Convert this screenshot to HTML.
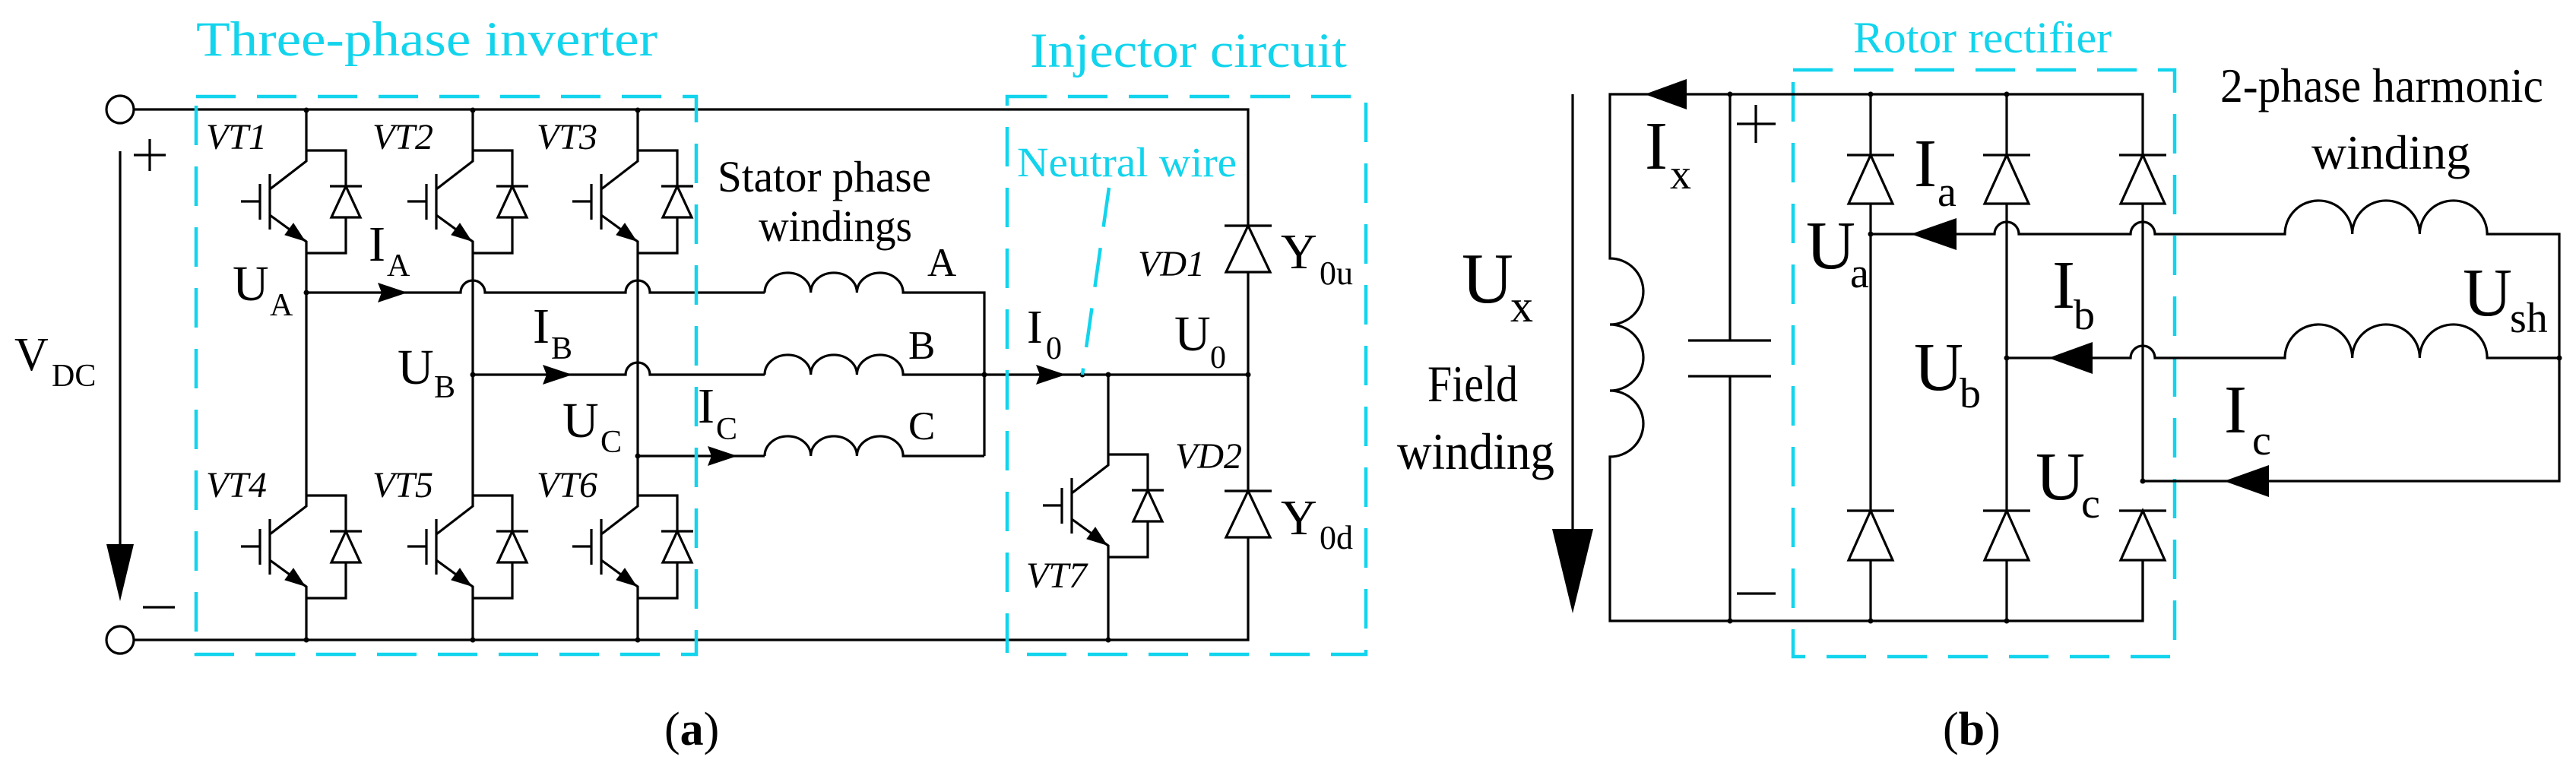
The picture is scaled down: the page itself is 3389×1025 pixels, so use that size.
<!DOCTYPE html>
<html><head><meta charset="utf-8"><style>
html,body{margin:0;padding:0;background:#fff}
svg{display:block}
svg text, svg tspan{font-family:"Liberation Serif",serif}
text{fill:#000}
.c{fill:#12d4ec}
</style></head><body>
<svg width="3389" height="1025" viewBox="0 0 3389 1025" xmlns="http://www.w3.org/2000/svg" font-family="Liberation Serif, serif">
<defs>
<g id="igbt" fill="none" stroke="#000" stroke-width="3.2">
<path d="M0 0 H52 V47 M52 88 V135 H0 M0 0 V14 L-48 51 M-48 31 V104 M-61 44 V91 M-86 67 H-61 M-48 85 L0 120 V135"/>
<path d="M52 47 L33 88 H71 Z M31 47 H73" fill="#fff"/>
<path d="M-2 119 L-28 111 L-17 96 Z" fill="#000" stroke-width="1"/>
</g>
</defs>

<g fill="none" stroke="#000" stroke-width="3.2">
<circle cx="158" cy="144" r="18"/>
<circle cx="158" cy="842" r="18"/>
<path d="M176 144 H1642 V297 M1642 358 V646 M1642 707 V842 H176"/>
<path d="M158 199 V720"/>
<path d="M403 145 V198 M403 333 V652 M403 787 V842"/>
<path d="M622 145 V198 M622 333 V652 M622 787 V842"/>
<path d="M839 145 V198 M839 333 V652 M839 787 V842"/>
<path d="M403 385 H606 a16 16 0 0 1 32 0 H823 a16 16 0 0 1 32 0 H1006"/>
<path d="M622 493 H823 a16 16 0 0 1 32 0 H1006"/>
<path d="M839 600 H1006"/>
<path d="M1006 385 a30.3 26 0 0 1 60.7 0 a30.3 26 0 0 1 60.7 0 a30.3 26 0 0 1 60.7 0 H1295 V600"/>
<path d="M1006 493 a30.3 26 0 0 1 60.7 0 a30.3 26 0 0 1 60.7 0 a30.3 26 0 0 1 60.7 0 H1642"/>
<path d="M1006 600 a30.3 26 0 0 1 60.7 0 a30.3 26 0 0 1 60.7 0 a30.3 26 0 0 1 60.7 0 H1295"/>
<path d="M1458 493 V598 M1458 733 V842"/>
<path d="M1642 297 L1613 358 H1671 Z M1611 297 H1673" fill="#fff"/>
<path d="M1642 646 L1613 707 H1671 Z M1611 646 H1673" fill="#fff"/>
<path d="M176 204 H218 M197 183 V225 M188 799 H230"/>
</g>
<path d="M140 716 H176 L158 791 Z" fill="#000"/>
<g fill="#000">
<path d="M497 372 L536 385 L497 398 L502 385 Z"/>
<path d="M714 480 L753 493 L714 506 L719 493 Z"/>
<path d="M931 587 L970 600 L931 613 L936 600 Z"/>
<path d="M1363 480 L1402 493 L1363 506 L1368 493 Z"/>
<circle cx="403" cy="145" r="3.5"/><circle cx="622" cy="145" r="3.5"/><circle cx="839" cy="145" r="3.5"/>
<circle cx="403" cy="842" r="3.5"/><circle cx="622" cy="842" r="3.5"/><circle cx="839" cy="842" r="3.5"/>
<circle cx="403" cy="385" r="3.5"/><circle cx="622" cy="493" r="3.5"/><circle cx="839" cy="600" r="3.5"/>
<circle cx="1295" cy="493" r="3.5"/><circle cx="1424" cy="493" r="3.5"/><circle cx="1458" cy="493" r="3.5"/>
<circle cx="1642" cy="493" r="3.5"/><circle cx="1458" cy="842" r="3.5"/>
</g>
<use href="#igbt" x="403" y="198"/><use href="#igbt" x="622" y="198"/><use href="#igbt" x="839" y="198"/>
<use href="#igbt" x="403" y="652"/><use href="#igbt" x="622" y="652"/><use href="#igbt" x="839" y="652"/>
<use href="#igbt" x="1458" y="598"/>

<g fill="none" stroke="#12d4ec" stroke-width="4.5" stroke-dasharray="52 28">
<rect x="258" y="127" width="658" height="734"/>
<rect x="1325" y="127" width="472" height="734"/>
<rect x="2359" y="92" width="502" height="772"/>
<path d="M1459 247 L1424 493"/>
</g>

<text x="258" y="73" font-size="65" class="c" textLength="607" lengthAdjust="spacingAndGlyphs">Three-phase inverter</text>
<text x="1355" y="88" font-size="65" class="c" textLength="417" lengthAdjust="spacingAndGlyphs">Injector circuit</text>
<text x="1338" y="232" font-size="55" class="c" textLength="289" lengthAdjust="spacingAndGlyphs">Neutral wire</text>
<text x="944" y="252" font-size="58" textLength="281" lengthAdjust="spacingAndGlyphs">Stator phase</text>
<text x="998" y="317" font-size="58" textLength="202" lengthAdjust="spacingAndGlyphs">windings</text>
<g font-size="48" font-style="italic">
<text x="271" y="196">VT1</text>
<text x="490" y="196">VT2</text>
<text x="706" y="196">VT3</text>
<text x="271" y="654">VT4</text>
<text x="490" y="654">VT5</text>
<text x="706" y="654">VT6</text>
<text x="1497" y="363">VD1</text>
<text x="1546" y="616">VD2</text>
<text x="1350" y="773">VT7</text>
</g>
<g font-size="66">
<text x="306" y="395">U</text><text x="355" y="415" font-size="42">A</text>
<text x="485" y="343">I</text><text x="509" y="363" font-size="42">A</text>
<text x="523" y="505">U</text><text x="571" y="523" font-size="42">B</text>
<text x="701" y="451">I</text><text x="725" y="472" font-size="42">B</text>
<text x="740" y="575">U</text><text x="790" y="595" font-size="42">C</text>
<text x="918" y="556">I</text><text x="942" y="578" font-size="42">C</text>
<text x="19" y="487" font-size="62">V</text><text x="68" y="508" font-size="42">DC</text>
<text x="1351" y="451" font-size="62">I</text><text x="1376" y="472" font-size="42">0</text>
<text x="1545" y="461">U</text><text x="1592" y="484" font-size="42">0</text>
<text x="1685" y="353">Y</text><text x="1736" y="374" font-size="44">0u</text>
<text x="1685" y="703">Y</text><text x="1736" y="722" font-size="44">0d</text>
</g>
<g font-size="53">
<text x="1220" y="363">A</text><text x="1195" y="472">B</text><text x="1195" y="578">C</text>
</g>
<text x="874" y="980" font-size="62">(<tspan font-weight="bold">a</tspan>)</text>

<g fill="none" stroke="#000" stroke-width="3.2">
<path d="M2069 124 V700"/>
<path d="M2219 124 H2819 V204 M2819 268 V633 M2819 672 V817 H2118 V601 a44 43.5 0 0 0 0 -87 a44 43.5 0 0 0 0 -87 a44 43.5 0 0 0 0 -87 V124 H2219"/>
<path d="M2276 124 V448 M2276 495 V817 M2221 448 H2330 M2221 495 H2330"/>
<path d="M2461 124 V204 M2461 268 V672 M2461 737 V817"/>
<path d="M2640 124 V204 M2640 268 V672 M2640 737 V817"/>
<path d="M2819 737 V817"/>
<g fill="#fff">
<path d="M2461 204 L2432 268 H2490 Z M2430 204 H2492"/>
<path d="M2640 204 L2611 268 H2669 Z M2609 204 H2671"/>
<path d="M2819 204 L2790 268 H2848 Z M2788 204 H2850"/>
<path d="M2461 672 L2432 737 H2490 Z M2430 672 H2492"/>
<path d="M2640 672 L2611 737 H2669 Z M2609 672 H2671"/>
<path d="M2819 672 L2790 737 H2848 Z M2788 672 H2850"/>
</g>
<path d="M2461 308 H2624 a16 16 0 0 1 32 0 H2803 a16 16 0 0 1 32 0 H3006 a44.3 44 0 0 1 88.7 0 a44.3 44 0 0 1 88.7 0 a44.3 44 0 0 1 88.7 0 H3367 V633 H2819"/>
<path d="M2640 471 H2803 a16 16 0 0 1 32 0 H3006 a44.3 44 0 0 1 88.7 0 a44.3 44 0 0 1 88.7 0 a44.3 44 0 0 1 88.7 0 H3367"/>
<path d="M2285 163 H2336 M2310 138 V188 M2285 781 H2336"/>
</g>
<g fill="#000">
<path d="M2042 696 H2096 L2069 807 Z"/>
<path d="M2219 104 L2164 124 L2219 144 Z"/>
<path d="M2574 287 L2514 308 L2574 329 Z"/>
<path d="M2753 450 L2695 471 L2753 492 Z"/>
<path d="M2985 612 L2926 633 L2985 654 Z"/>
<circle cx="2276" cy="124" r="3.5"/><circle cx="2461" cy="124" r="3.5"/><circle cx="2640" cy="124" r="3.5"/>
<circle cx="2276" cy="817" r="3.5"/><circle cx="2461" cy="817" r="3.5"/><circle cx="2640" cy="817" r="3.5"/>
<circle cx="2461" cy="308" r="3.5"/><circle cx="2640" cy="471" r="3.5"/><circle cx="2819" cy="633" r="3.5"/>
<circle cx="3367" cy="471" r="3.5"/>
</g>
<text x="2438" y="69" font-size="58" class="c" textLength="340" lengthAdjust="spacingAndGlyphs">Rotor rectifier</text>
<text x="2921" y="134" font-size="63" textLength="425" lengthAdjust="spacingAndGlyphs">2-phase harmonic</text>
<text x="3041" y="222" font-size="63" textLength="209" lengthAdjust="spacingAndGlyphs">winding</text>
<text x="1923" y="398" font-size="94">U</text><text x="1987" y="423" font-size="60">x</text>
<text x="1878" y="528" font-size="68" textLength="119" lengthAdjust="spacingAndGlyphs">Field</text>
<text x="1838" y="617" font-size="68" textLength="207" lengthAdjust="spacingAndGlyphs">winding</text>
<g font-size="90">
<text x="2164" y="222">I</text><text x="2197" y="248" font-size="56">x</text>
<text x="2518" y="245">I</text><text x="2549" y="271" font-size="56">a</text>
<text x="2376" y="353">U</text><text x="2434" y="378" font-size="56">a</text>
<text x="2700" y="405">I</text><text x="2728" y="433" font-size="56">b</text>
<text x="2518" y="513">U</text><text x="2578" y="536" font-size="56">b</text>
<text x="2926" y="569">I</text><text x="2963" y="598" font-size="56">c</text>
<text x="2678" y="657">U</text><text x="2738" y="681" font-size="56">c</text>
<text x="3240" y="415">U</text><text x="3302" y="437" font-size="56">sh</text>
</g>
<text x="2556" y="980" font-size="62">(<tspan font-weight="bold">b</tspan>)</text>
</svg>
</body></html>
